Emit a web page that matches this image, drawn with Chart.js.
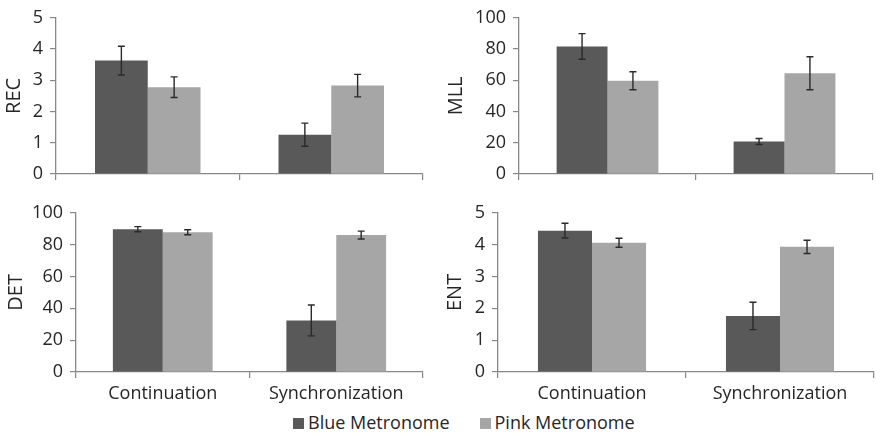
<!DOCTYPE html>
<html>
<head>
<meta charset="utf-8">
<script src="https://cdn.jsdelivr.net/npm/chart.js@4"></script>
<style>
  html, body { margin: 0; padding: 0; background: #fff; }
  body { width: 876px; height: 435px; position: relative; overflow: hidden; font-family: "Open Sans", sans-serif; }
  canvas { position: absolute; }
  #legend { position: absolute; left: 293px; top: 411px; font-size: 18px; color: #262626; white-space: nowrap; line-height: 22px; }
  .item { display: inline-block; margin-right: 30px; }
  .sw { display: inline-block; width: 11px; height: 11px; margin-right: 4px; vertical-align: 0px; }
</style>
</head>
<body>
<canvas id="c1" width="432" height="196" style="left:0px;top:0px;width:432px;height:196px"></canvas>
<canvas id="c2" width="436" height="196" style="left:440px;top:0px;width:436px;height:196px"></canvas>
<canvas id="c3" width="432" height="210" style="left:0px;top:195px;width:432px;height:210px"></canvas>
<canvas id="c4" width="436" height="210" style="left:440px;top:195px;width:436px;height:210px"></canvas>
<div id="legend">
  <span class="item"><span class="sw" style="background:#595959"></span>Blue Metronome</span><span class="item"><span class="sw" style="background:#A6A6A6"></span>Pink Metronome</span>
</div>
<script>
// ---- Data ----
const categories = ["Continuation", "Synchronization"];
const seriesNames = ["Blue Metronome", "Pink Metronome"];

const recBlue = [3.63, 1.26];
const recBlueErr = [0.46, 0.37];
const recPink = [2.78, 2.83];
const recPinkErr = [0.33, 0.36];

const mllBlue = [81.7, 20.8];
const mllBlueErr = [8.2, 1.9];
const mllPink = [59.7, 64.5];
const mllPinkErr = [5.8, 10.6];

const detBlue = [89.7, 32.4];
const detBlueErr = [1.6, 9.7];
const detPink = [87.8, 86.0];
const detPinkErr = [1.6, 2.5];

const entBlue = [4.44, 1.76];
const entBlueErr = [0.23, 0.43];
const entPink = [4.06, 3.93];
const entPinkErr = [0.14, 0.21];

const recTicks = [0, 1, 2, 3, 4, 5];
const mllTicks = [0, 20, 40, 60, 80, 100];
const detTicks = [0, 20, 40, 60, 80, 100];
const entTicks = [0, 1, 2, 3, 4, 5];

// ---- Styling ----
const FONT = "'Open Sans', sans-serif";
const TEXT = "#262626";
const AXIS = "#888888";
const BLUE = "#595959";
const PINK = "#A6A6A6";

const errorBars = {
  id: "errorBars",
  afterDatasetsDraw(chart) {
    const ctx = chart.ctx;
    const y = chart.scales.y;
    ctx.save();
    ctx.strokeStyle = "#2a2a2a";
    ctx.lineWidth = 1.4;
    chart.data.datasets.forEach((ds, di) => {
      const meta = chart.getDatasetMeta(di);
      meta.data.forEach((bar, i) => {
        const v = ds.data[i], e = ds.errors[i];
        const yt = y.getPixelForValue(v + e);
        const yb = y.getPixelForValue(v - e);
        const x = bar.x;
        ctx.beginPath();
        ctx.moveTo(x, yt); ctx.lineTo(x, yb);
        ctx.moveTo(x - 3.5, yt); ctx.lineTo(x + 3.5, yt);
        ctx.moveTo(x - 3.5, yb); ctx.lineTo(x + 3.5, yb);
        ctx.stroke();
      });
    });
    ctx.restore();
  }
};

function makeChart(id, title, blue, blueErr, pink, pinkErr, ticks, showLabels, yWidth, xHeight, pad, titlePad) {
  const max = ticks[ticks.length - 1];
  const step = ticks[1] - ticks[0];
  return new Chart(document.getElementById(id), {
    type: "bar",
    data: {
      labels: categories,
      datasets: [
        { label: seriesNames[0], data: blue, errors: blueErr, backgroundColor: BLUE, borderWidth: 0 },
        { label: seriesNames[1], data: pink, errors: pinkErr, backgroundColor: PINK, borderWidth: 0 }
      ]
    },
    options: {
      responsive: false,
      animation: false,
      events: [],
      layout: { padding: pad },
      datasets: { bar: { categoryPercentage: 0.575, barPercentage: 1.0 } },
      plugins: { legend: { display: false }, tooltip: { enabled: false } },
      scales: {
        x: {
          offset: true,
          grid: { offset: true, display: true, drawOnChartArea: false, drawTicks: true, tickLength: 6, color: AXIS, lineWidth: 1.2 },
          border: { display: true, color: AXIS, width: 1.3 },
          ticks: {
            padding: 5,
            color: TEXT,
            font: { family: FONT, size: 18 },
            callback: function (val) { return showLabels ? this.getLabelForValue(val) : ""; }
          },
          afterFit: (s) => { s.height = xHeight; }
        },
        y: {
          min: 0, max: max,
          grid: { display: true, drawOnChartArea: false, drawTicks: true, tickLength: 6, color: AXIS, lineWidth: 1.2 },
          border: { display: true, color: AXIS, width: 1.3 },
          ticks: { stepSize: step, padding: 7, color: TEXT, font: { family: FONT, size: 18 } },
          title: { display: true, text: title, color: TEXT, font: { family: FONT, size: 20 }, padding: { top: titlePad, bottom: 0 } },
          afterFit: (s) => { s.width = yWidth; }
        }
      }
    },
    plugins: [errorBars]
  });
}

makeChart("c1", "REC", recBlue, recBlueErr, recPink, recPinkErr, recTicks, false, 56, 22, { top: 15, right: 9, left: 0, bottom: 0 }, 2);
makeChart("c2", "MLL", mllBlue, mllBlueErr, mllPink, mllPinkErr, mllTicks, false, 79, 22, { top: 15, right: 3, left: 0, bottom: 0 }, 4);
makeChart("c3", "DET", detBlue, detBlueErr, detPink, detPinkErr, detTicks, true, 76, 33, { top: 17, right: 9, left: 0, bottom: 0 }, 4);
makeChart("c4", "ENT", entBlue, entBlueErr, entPink, entPinkErr, entTicks, true, 58, 33, { top: 17, right: 2, left: 0, bottom: 0 }, 3);
</script>
</body>
</html>
